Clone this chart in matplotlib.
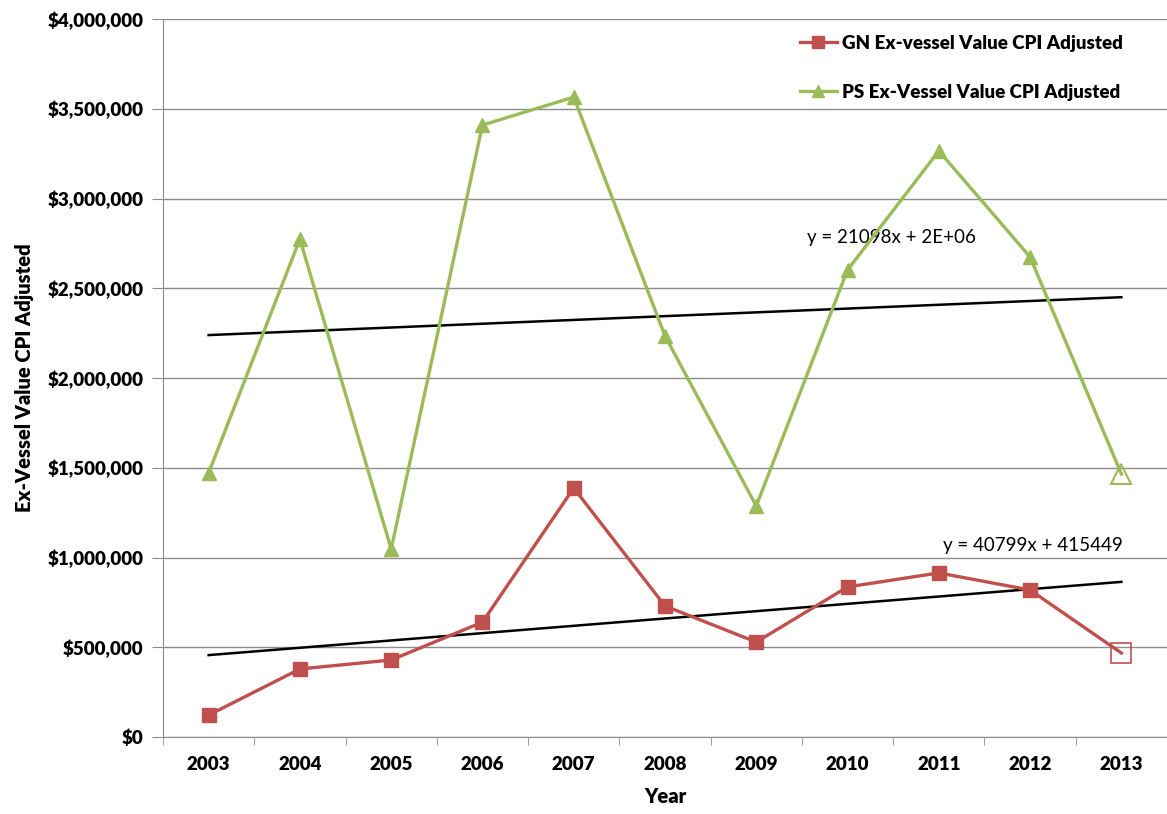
import matplotlib.pyplot as plt
import numpy as np
from matplotlib.ticker import FuncFormatter, FixedLocator

# data
years = ["2003", "2004", "2005", "2006", "2007", "2008", "2009", "2010", "2011", "2012", "2013"]
gn_value = [122000, 379000, 429000, 640000, 1387000, 730000, 529000, 836000, 914000, 819000, 468000]
ps_value = [1471000, 2774000, 1047000, 3409000, 3565000, 2234000, 1287000, 2602000, 3265000, 2674000, 1465000]

# linear trends (x = 1..11) as printed on the chart
gn_slope, gn_intercept = 40799, 415449
ps_slope, ps_intercept = 21098, 2218000
gn_eq = "y = 40799x + 415449"
ps_eq = "y = 21098x + 2E+06"

plt.rcParams['font.family'] = ['Lato', 'DejaVu Sans']
BOLD = "heavy"

red = "#C0504D"
green = "#9BBB59"
grey = "#8C8C8C"

fig = plt.figure(figsize=(11.67, 8.14), dpi=100)
ax = fig.add_axes([163/1167, 1 - 737/814, 1 - 163/1167, (737 - 19)/814])

x = np.arange(len(years))
n = len(years)

# main series, last point drawn hollow
ax.plot(x, gn_value, color=red, lw=2.4, marker="s", ms=10, markevery=list(range(n - 1)), zorder=4)
ax.plot(x[-1:], gn_value[-1:], ls="none", marker="s", ms=14, mfc="none", mec=red, mew=1.2, zorder=4)
ax.plot(x, ps_value, color=green, lw=2.4, marker="^", ms=10, markevery=list(range(n - 1)), zorder=4)
ax.plot(x[-1:], ps_value[-1:], ls="none", marker="^", ms=15, mfc="none", mec=green, mew=1.5, zorder=4)

# trend lines
xt = np.arange(1, n + 1)
ax.plot(x, ps_slope * xt + ps_intercept, color="black", lw=1.8, zorder=3)
ax.plot(x, gn_slope * xt + gn_intercept, color="black", lw=1.8, zorder=3)
ax.text(6.56, 2780000, ps_eq, fontsize=13.5, ha="left", va="center")
ax.text(8.05, 1065000, gn_eq, fontsize=13.5, ha="left", va="center")

# axes
ax.set_xlim(-0.5, n - 0.5)
ax.set_ylim(0, 4000000)
ax.set_yticks(np.arange(0, 4000001, 500000))
ax.yaxis.set_major_formatter(FuncFormatter(lambda v, p: "${:,.0f}".format(v)))
ax.set_xticks(x)
ax.set_xticklabels(years)
ax.xaxis.set_minor_locator(FixedLocator(np.arange(-0.5, n, 1.0)))
ax.tick_params(axis="x", which="major", length=0, pad=14)
ax.tick_params(axis="x", which="minor", length=6, color=grey, direction="out")
ax.tick_params(axis="y", length=8, color=grey, pad=6)
for lab in ax.get_xticklabels() + ax.get_yticklabels():
    lab.set_fontweight(BOLD)
    lab.set_fontsize(13.5)

ax.grid(axis="y", color=grey, lw=1)
ax.set_axisbelow(True)
for s in ["top", "right"]:
    ax.spines[s].set_visible(False)
ax.spines["left"].set_color(grey)
ax.spines["bottom"].set_color(grey)

ax.set_xlabel("Year", fontsize=14.5, fontweight=BOLD, labelpad=10)
ax.set_ylabel("Ex-Vessel Value CPI Adjusted", fontsize=14.5, fontweight=BOLD, labelpad=10)

h1, = ax.plot([], [], color=red, lw=2.4, marker="s", ms=9)
h2, = ax.plot([], [], color=green, lw=2.4, marker="^", ms=9)
leg = ax.legend([h1, h2], ["GN Ex-vessel Value CPI Adjusted", "PS Ex-Vessel Value CPI Adjusted"],
                loc="upper left", bbox_to_anchor=(0.621, 0.996),
                frameon=False,
                borderpad=0.2, labelspacing=1.7, handlelength=2.0, handletextpad=0.25,
                prop={"weight": BOLD, "size": 13.5})

fig.savefig("out.png", dpi=100)
